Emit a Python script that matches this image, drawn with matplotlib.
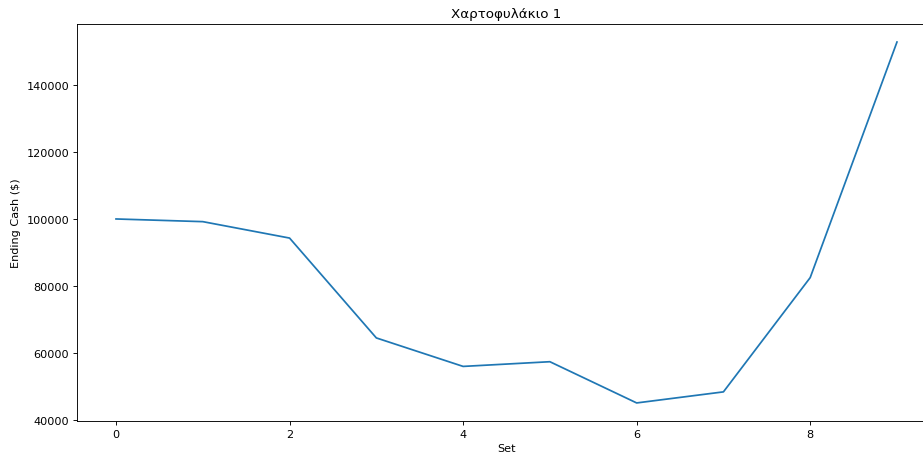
import numpy as np
import matplotlib
matplotlib.use("Agg")
import matplotlib.pyplot as plt

# ending cash per set
sets = [0, 1, 2, 3, 4, 5, 6, 7, 8, 9]
ending_cash = [100000, 99200, 94300, 64500, 56000, 57400, 45100, 48400, 82500, 152800]

plt.rcParams['font.size'] = 8.1

fig = plt.figure(figsize=(9.23, 4.56), dpi=100)
ax = fig.add_axes([0.0834, 0.0746, 0.9307, 0.8706])

ax.plot(sets, ending_cash, color='#1f77b4', linewidth=1.25)
ax.set_title('Χαρτοφυλάκιο 1', fontsize=9.7, pad=4.8)
ax.set_xlabel('Set', labelpad=3)
ax.set_ylabel('Ending Cash ($)', labelpad=3.5)
ax.tick_params(length=2.9, pad=2.8, width=0.65)
for s in ax.spines.values():
    s.set_linewidth(0.65)

fig.savefig('out.png', dpi=100)
